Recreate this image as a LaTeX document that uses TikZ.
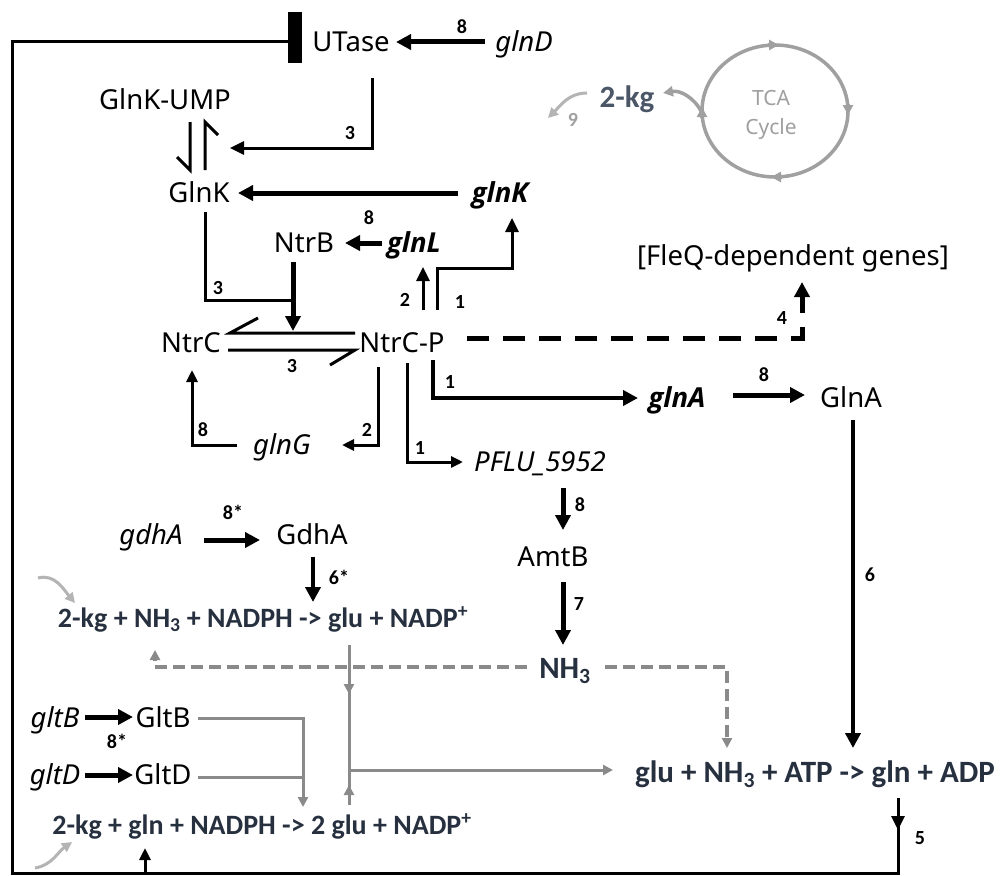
\documentclass[tikz,border=0pt]{standalone}
\usepackage{fontspec}
\setmainfont{Noto Sans}
\newfontfamily\carl{Carlito}
\newfontfamily\opens{Open Sans}
\usetikzlibrary{arrows.meta,calc}
\definecolor{eqc}{HTML}{27303F}
\definecolor{kgc}{HTML}{4B5667}
\definecolor{grl}{HTML}{8A8A8A}
\definecolor{tcac}{HTML}{A0A0A0}
\definecolor{ltg}{HTML}{B4B4B4}
\newcommand\labfont{\fontsize{27.5}{32}\selectfont}
\newcommand\eqfont{\carl\bfseries\fontsize{31}{36}\selectfont}
\newcommand\eqsfont{\carl\bfseries\fontsize{28}{34}\selectfont}
\newcommand\numfont{\carl\bfseries\fontsize{20}{24}\selectfont}
\newcommand\tcafont{\fontsize{21}{24}\selectfont}
\begin{document}
\begin{tikzpicture}[x=1pt,y=-1pt,
 lab/.style={inner sep=0pt, text height=19.5pt, text depth=0pt, font=\labfont},
 gene/.style={lab, font=\labfont\itshape},
 bgene/.style={lab, font=\opens\labfont\bfseries\itshape},
 eq/.style={inner sep=0pt, text height=20pt, text depth=0pt, font=\eqfont, text=eqc},
 eqs/.style={eq, text height=18pt, font=\eqsfont},
 num/.style={inner sep=0pt, text height=13pt, text depth=0pt, font=\numfont},
 thn/.style={line width=3pt},
 thk/.style={line width=5pt},
 tipL/.style={-{Triangle[length=15pt,width=15pt]}},
 tipM/.style={-{Triangle[length=14pt,width=13pt]}},
 tipS/.style={-{Triangle[length=12pt,width=11pt]}},
 gline/.style={draw=grl, line width=3pt},
 lgline/.style={draw=ltg, line width=3pt},
 tline/.style={draw=tcac, line width=3.5pt},
 grtip/.style={-{Triangle[length=10pt,width=10pt]}},
 gdash/.style={draw=grl, line width=3.5pt, dash pattern=on 12pt off 6pt},
]
\fill[white] (0,0) rectangle (1003,875);
\useasboundingbox (0,0) rectangle (1003,875);

% ---------- nodes ----------
\node[lab] (UTase) at (351,42) {UTase};
\node[gene] (glnD) at (524,42) {glnD};
\node[fill=black, inner sep=0pt, minimum width=14pt, minimum height=51pt] (bar) at (295,37.5) {};
\node[lab] (GlnKUMP) at (165,100) {GlnK-UMP};
\node[lab] (GlnK) at (199,193) {GlnK};
\node[bgene] (glnK) at (500,193) {glnK};
\node[lab] (NtrB) at (304,243) {NtrB};
\node[bgene] (glnL) at (414,243) {glnL};
\node[lab] (NtrC) at (191,343) {NtrC};
\node[lab] (NtrCP) at (402,343) {NtrC-P};
\node[lab] (FleQ) at (793,256) {[FleQ-dependent genes]};
\node[bgene] (glnA) at (677,398) {glnA};
\node[lab] (GlnA) at (851,398) {GlnA};
\node[gene] (glnG) at (282,445) {glnG};
\node[gene] (PFLU) at (540,462) {PFLU\_5952};
\node[lab] (AmtB) at (553,557) {AmtB};
\node[eq] (NH3) at (565,668) {NH\textsubscript{3}};
\node[gene] (gdhA) at (151,535) {gdhA};
\node[lab] (GdhA) at (312,535) {GdhA};
\node[eqs] (eqA) at (263,618) {2-kg + NH\textsubscript{3} + NADPH -> glu + NADP\textsuperscript{+}};
\node[gene] (gltB) at (55,718) {gltB};
\node[lab] (GltB) at (163,718) {GltB};
\node[gene] (gltD) at (55,775) {gltD};
\node[lab] (GltD) at (163,775) {GltD};
\node[eqs] (eqB) at (262,825) {2-kg + gln + NADPH -> 2 glu + NADP\textsuperscript{+}};
\node[eq] (eqC) at (815,772) {glu + NH\textsubscript{3} + ATP -> gln + ADP};
\node[eq, text=kgc] (kg) at (627,97) {2-kg};
\coordinate (TCA) at (775,111);
\node[inner sep=0pt, text height=15pt, text depth=0pt, font=\tcafont, text=tcac] (tcaT) at (771,98) {TCA};
\node[inner sep=0pt, text height=15pt, text depth=0pt, font=\tcafont, text=tcac] (tcaC) at (771,127) {Cycle};

% ---------- number labels ----------
\node[num] (n8a) at (462,27) {8};
\node[num] (n3a) at (350,133) {3};
\node[num] (n8b) at (369,218) {8};
\node[num] (n3b) at (218,288) {3};
\node[num] (n2a) at (405,300) {2};
\node[num] (n1a) at (460,302) {1};
\node[num] (n3c) at (292,366) {3};
\node[num] (n4) at (782,318) {4};
\node[num] (n1b) at (450,382) {1};
\node[num] (n8c) at (764,375) {8};
\node[num] (n8d) at (203,430) {8};
\node[num] (n2b) at (367,430) {2};
\node[num] (n1c) at (420,448) {1};
\node[num] (n8e) at (580,505) {8};
\node[num] (n7) at (579,604) {7};
\node[num] (n6) at (870,575) {6};
\node[num] (n8s) at (233,513) {8*};
\node[num] (n6s) at (339,578) {6*};
\node[num] (n8t) at (117,742) {8*};
\node[num] (n5) at (920,838) {5};
\node[num, text=tcac] (n9) at (573,120) {9};

% ---------- connectors ----------
\coordinate (cBL) at (12,873);
\coordinate (cG) at (145,873);
\draw[thk,tipL] ($(glnD)+(-39,0)$) -- ($(UTase)+(45,0)$);
\draw[thn] ($(eqC)+(83,26)$) |- (cBL) |- ($(bar.west)+(0,4.5)$);
\draw[thn,tipM] ($(eqC)+(83,26)$) -- ($(eqC)+(83,58)$);
\draw[thn,tipS] (cG) -- ($(eqB)+(-117,23)$);

\draw[thn,tipM] ($(UTase)+(21,36)$) |- ($(GlnK)+(31,-45)$);
\draw[thn] ($(GlnK)+(-9,-71)$) -- ($(GlnK)+(-9,-23)$) -- ($(GlnK)+(-22,-36)$);
\draw[thn] ($(GlnK)+(6,-23)$) -- ($(GlnK)+(6,-71)$) -- ($(GlnK)+(19,-58)$);
\draw[thk,tipL] ($(glnK)+(-42,0)$) -- ($(GlnK)+(39,0)$);
\draw[thn] ($(GlnK)+(6,19)$) |- ($(NtrB)+(-11,57)$);
\draw[thk,tipL] ($(NtrB)+(-11,19)$) -- ($(NtrC)+(102,-12)$);
\draw[thk,tipL] ($(glnL)+(-32,0)$) -- ($(NtrB)+(41,0)$);
\draw[thn,tipM] ($(NtrCP)+(21,-33)$) -- ($(glnL)+(9,24)$);
\draw[thn,tipM] ($(NtrCP)+(35,-33)$) |- ($(glnK)+(12,75)$) -- ($(glnK)+(12,25)$);
\draw[thn] ($(NtrC)+(67,-25)$) -- ($(NtrC)+(39,-10)$) -- ($(NtrCP)+(-47,-10)$);
\draw[thn] ($(NtrC)+(37,7)$) -- ($(NtrCP)+(-47,7)$) -- ($(NtrCP)+(-72,22)$);
\draw[thk, dash pattern=on 22pt off 14pt, tipL] ($(NtrCP)+(65,-5)$) -| ($(FleQ)+(9,26)$);
\draw[line width=4.5pt,tipL] ($(NtrCP)+(31,17)$) |- ($(glnA)+(-39,0)$);
\draw[thk,tipL] ($(glnA)+(56,-3)$) -- ($(GlnA)+(-46,-3)$);
\draw[line width=4pt,tipL] ($(GlnA)+(2,22)$) -- ($(eqC)+(38,-24)$);
\draw[thn,tipS] ($(NtrCP)+(-24,24)$) |- ($(glnG)+(60,0)$);
\draw[thn,tipS] ($(glnG)+(-45,0)$) -| ($(NtrC)+(1,27)$);
\draw[thn,tipS] ($(NtrCP)+(5,20)$) |- ($(PFLU)+(-77,0)$);
\draw[thk,tipL] ($(PFLU)+(23,26)$) -- ($(AmtB)+(10,-27)$);
\draw[thk,tipL] ($(AmtB)+(10,25)$) -- ($(NH3)+(-2,-23)$);

\draw[gdash,grtip] ($(NH3)+(40,-1)$) -| ($(eqC)+(-88,-24)$);
\draw[gdash,grtip] ($(NH3)+(-38,-1)$) -| ($(eqA)+(-108,32)$);
\coordinate (J) at (349,770);
\draw[gline] ($(eqA)+(86,27)$) -- (J) -- ($(eqB)+(87,-20)$);
\draw[gline,grtip] ($(eqA)+(86,27)$) -- ($(eqA)+(86,76)$);
\draw[gline,grtip] ($(eqB)+(87,-20)$) -- ($(eqB)+(87,-40)$);
\draw[gline,grtip] (J) -- ($(eqC)+(-202,-2)$);

\draw[thk,tipL] ($(gdhA)+(53,5)$) -- ($(GdhA)+(-52,5)$);
\draw[line width=4.5pt,tipL] ($(GdhA)+(1,22)$) -- ($(eqA)+(50,-16)$);
\draw[thk,tipL] ($(gltB)+(30,-1)$) -- ($(GltB)+(-30,-1)$);
\draw[thk,tipL] ($(gltD)+(30,0)$) -- ($(GltD)+(-30,0)$);
\draw[gline,grtip] ($(GltB)+(35,0)$) -| ($(eqB)+(41,-18)$);
\draw[gline] ($(GltD)+(35,2)$) -- ($(GltD)+(140,2)$);

\draw[lgline,grtip] ($(eqA)+(-225,-40)$) to[out=15,in=130] ($(eqA)+(-188,-15)$);
\draw[lgline,grtip] ($(eqB)+(-227,43)$) to[out=10,in=215] ($(eqB)+(-190,17)$);

% TCA cycle
\draw[tline] (TCA) ellipse [x radius=73, y radius=66];
\draw[tline,grtip] ($(TCA)+(-7,-66)$) -- ($(TCA)+(4,-66)$);
\draw[tline,grtip] ($(TCA)+(73,-7)$) -- ($(TCA)+(73,4)$);
\draw[tline,grtip] ($(TCA)+(7,66)$) -- ($(TCA)+(-4,66)$);
\draw[tline,grtip] ($(TCA)+(-73,7)$) -- ($(TCA)+(-73,-4)$);
\draw[tline,grtip] ($(TCA)+(-73,2)$) to[out=115,in=10] ($(kg)+(36,-4)$);
\draw[lgline,grtip] ($(kg)+(-40,-4)$) to[out=180,in=45] ($(kg)+(-79,21)$);
\end{tikzpicture}
\end{document}
